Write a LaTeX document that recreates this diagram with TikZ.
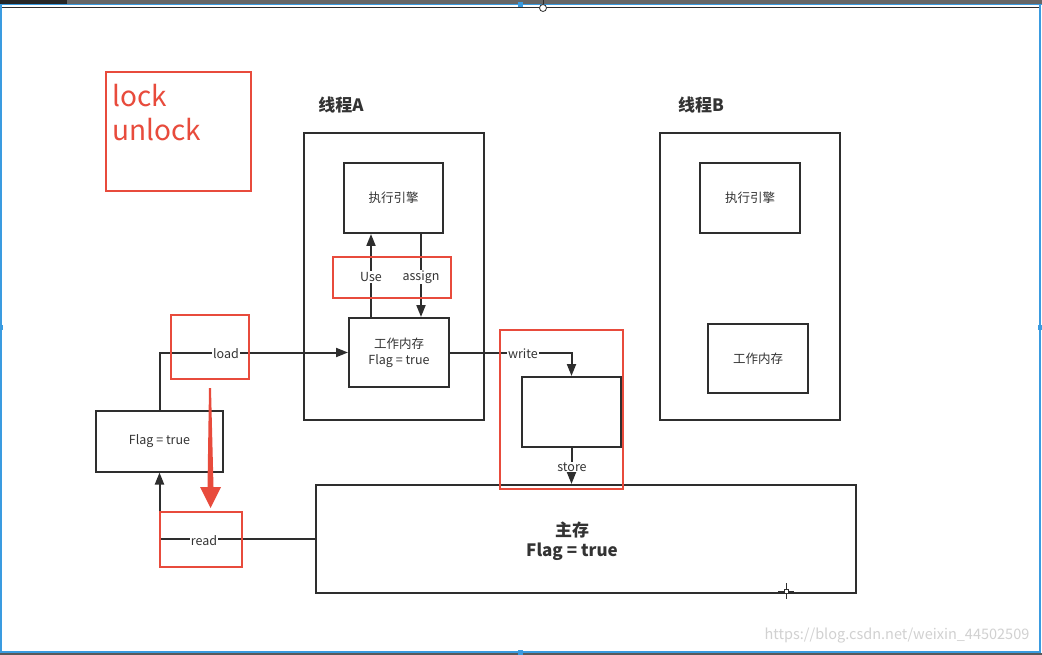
\documentclass[tikz,border=0pt]{standalone}
\usepackage{fontspec}
\setmainfont{Noto Sans CJK SC}
\usetikzlibrary{arrows.meta}
\definecolor{ln}{HTML}{2E2E2E}
\definecolor{rd}{HTML}{E84B3C}
\definecolor{bl}{HTML}{3A9BE0}
\definecolor{txt}{HTML}{333333}
\begin{document}
\begin{tikzpicture}[x=1pt,y=-1pt,
  box/.style={draw=ln,line width=2pt,minimum width=#1,inner sep=0pt},
  rbox/.style={draw=rd,line width=2.8pt,inner sep=0pt},
  arr/.style={draw=ln,line width=2pt,-{Triangle[length=12pt,width=9pt]}},
  lbl/.style={fill=white,inner sep=1pt,text=txt,font=\fontsize{12.5}{14}\selectfont},
  btxt/.style={text=txt,font=\fontsize{12.5}{16}\selectfont,align=center}]
\useasboundingbox (0,0) rectangle (1042,655);
% screenshot frame
\fill[white] (0,0) rectangle (1042,655);
\fill[black!60] (0,0) rectangle (1042,4);
\fill[black!85] (0,0) rectangle (67,4);
\draw[bl,line width=1.2pt] (0,4.8) -- (1042,4.8);
\draw[ln,line width=1.2pt] (0,7.8) -- (1040,7.8);
\draw[bl,line width=1.5pt] (1,4) -- (1,652) -- (1040,652) -- (1040,4);
\fill[black!65] (0,653) rectangle (1042,655);
\fill[bl] (517.5,2.5) rectangle (522.5,7.5);
\fill[bl] (-1,324.5) rectangle (3,329.5);
\fill[bl] (1038,324.5) rectangle (1042,329.5);
\fill[bl] (517.5,649.5) rectangle (522.5,654.5);
\draw[ln,line width=0.6pt] (543,0) -- (543,4.5);
\draw[ln,line width=0.8pt,fill=white] (543,8) ellipse (3.5pt and 3.5pt);
% lock / unlock
\node[rbox,minimum width=145pt,minimum height=119pt] (lockbox) at (178.5,131.5) {};
\node[anchor=north west,inner sep=0pt,text=rd,align=left,font=\fontsize{28}{34}\selectfont] (locktxt) at (112,84) {lock\\unlock};
% thread titles
\node[text=txt,font=\fontsize{17}{20}\selectfont\bfseries] (tA) at (341,105) {线程A};
\node[text=txt,font=\fontsize{17}{20}\selectfont\bfseries] (tB) at (701,105) {线程B};
% thread A
\node[box=180pt,minimum height=287pt] (thA) at (394,276.5) {};
\node[box=99pt,minimum height=70pt,btxt] (engA) at (393.5,198) {执行引擎};
\node[box=100pt,minimum height=69pt,btxt] (wmA) at (399,352.5) {工作内存\\Flag = true};
% thread B
\node[box=180pt,minimum height=287pt] (thB) at (750,276.5) {};
\node[box=100pt,minimum height=70pt,btxt] (engB) at (750,198) {执行引擎};
\node[box=100pt,minimum height=69pt,btxt] (wmB) at (758,358.5) {工作内存};
% left flag box
\node[box=127pt,minimum height=61pt,btxt] (flag) at (159.5,441) {Flag = true};
% main memory
\node[box=540pt,minimum height=108pt] (mm) at (586,539) {};
\node[text=txt,align=center,font=\fontsize{17}{20}\selectfont\bfseries] (mmT) at (572,541) {主存\\Flag = true};
% small box
\node[box=99pt,minimum height=70pt] (sb) at (571.5,412) {};
% connectors
\coordinate (ux) at (371,0);
\coordinate (ax) at (421,0);
\draw[arr] (ux |- wmA.north) -- (ux |- engA.south);
\draw[arr] (ax |- engA.south) -- (ax |- wmA.north);
\node[lbl] (useL) at (371,277) {Use};
\node[lbl] (assignL) at (421,277) {assign};
\draw[arr] (flag.north) |- (wmA.west);
\node[lbl] (loadL) at (226,354) {load};
\draw[arr] (mm.west) -| (flag.south);
\node[lbl] (readL) at (204,541) {read};
\draw[arr] (wmA.east) -| (sb.north);
\node[lbl] (writeL) at (523,354) {write};
\draw[arr] (sb.south) -- (sb.south |- mm.north);
\node[lbl] (storeL) at (572,467) {store};
% red highlight boxes
\node[rbox,minimum width=118pt,minimum height=41pt] (rUse) at (392,277.5) {};
\node[rbox,minimum width=78pt,minimum height=64pt] (rLoad) at (210,347) {};
\node[rbox,minimum width=82pt,minimum height=55pt] (rRead) at (201,539.5) {};
\node[rbox,minimum width=123pt,minimum height=159pt] (rWS) at (561.5,409.5) {};
% red big arrow
\fill[rd] (209,388) -- (211,388) -- (213.5,487) -- (221,487) -- (210.5,508) -- (200,487) -- (207.5,487) -- cycle;
% cursor
\draw[ln,line width=0.8pt] (778,591) -- (794,591) (786,583) -- (786,599);
\draw[ln,line width=0.8pt,fill=white] (784,589) rectangle (788,593);
% watermark
\node[text=black!18,font=\fontsize{14.5}{16}\selectfont] (wm) at (897,636) {https://blog.csdn.net/weixin\_44502509};
\end{tikzpicture}
\end{document}
